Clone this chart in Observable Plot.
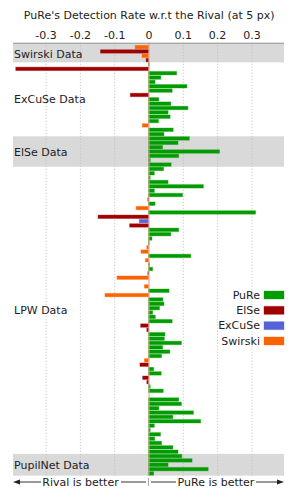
<!DOCTYPE html>
<html><head><meta charset="utf-8">
<script src="https://cdn.jsdelivr.net/npm/d3@7"></script>
<script src="https://cdn.jsdelivr.net/npm/@observablehq/plot@0.6"></script>
<style>
html,body{margin:0;padding:0;background:#fff;}
#wrap{position:relative;width:299px;height:499px;font-family:"DejaVu Sans",sans-serif;}
#wrap svg{position:absolute;left:0;top:0;}
</style></head><body><div id="wrap"></div>
<script>
const titleText = "PuRe's Detection Rate w.r.t the Rival (at 5 px)";
const xTicks = [-0.3, -0.2, -0.1, 0, 0.1, 0.2, 0.3];
const xDomain = [-0.395, 0.395];
const rivals = ["PuRe", "ElSe", "ExCuSe", "Swirski"];
const rivalColors = ["#009c00", "#a00000", "#5563d6", "#fa6400"];
const rivalCode = {P: "PuRe", E: "ElSe", X: "ExCuSe", S: "Swirski"};
const groupNames = ["Swirski Data", "ExCuSe Data", "ElSe Data", "LPW Data", "PupilNet Data"];
const groupSizes = [4, 17, 7, 66, 5];
const groupShaded = [true, false, true, false, true];
const rowValues = [
 -0.039,-0.140,-0.019,-0.007, 0.002,-0.387,0.082,0.036,0.019,0.112,0.069,-0.053,0.030,0.065,0.115,0.057,0.063,0.029,-0.018,0.072,
 0.045,0.119,0.086,0.041,0.207,0.088,0.005,0.066,0.044,0.017,0.005,0.057,0.160,0.017,0.099,-0.002,0.019,-0.036,0.312,-0.147,
 -0.027,-0.055,0.088,0.065,0.010,0.002,-0.005,-0.022,0.123,-0.009,0.003,0.012,-0.002,-0.092,0.000,-0.012,0.060,-0.127,0.042,0.045,
 0.032,0.012,0.020,0.069,-0.023,-0.005,0.048,0.046,0.096,0.041,0.062,0.038,-0.012,-0.025,0.015,0.037,-0.017,-0.005,0.005,0.043,
 0.000,0.088,0.096,0.030,0.131,0.071,0.152,0.017,0.005,0.035,0.018,0.038,0.071,0.086,0.097,0.127,0.057,0.174,0.015];
const rowWinner = [
 "S","E","S","E","P","E","P","P","P","P","P","E","P","P","P","P","P","P","S","P",
 "P","P","P","P","P","P","P","P","P","P","P","P","P","P","P","E","P","S","P","E",
 "X","E","P","P","P","P","S","S","P","S","P","P","E","S","P","S","P","S","P","P",
 "P","P","P","P","E","E","P","P","P","P","P","P","S","E","P","P","E","E","P","P",
 "P","P","P","P","P","P","P","P","P","P","P","P","P","P","P","P","P","P","P"];

const rows = rowValues.map((v, i) => ({i, v, who: rivalCode[rowWinner[i]]}));
let start = 0;
const bands = groupNames.map((name, g) => {
  const b = {name, y1: g === 0 ? -0.5 : start, y2: start + groupSizes[g], mid: start + groupSizes[g] / 2, shaded: groupShaded[g]};
  start += groupSizes[g];
  return b;
});
const nRows = rowValues.length;

const chart = Plot.plot({
  width: 299, height: 499,
  marginTop: 42.75, marginBottom: 23.35, marginLeft: 13, marginRight: 15,
  style: {fontFamily: "'DejaVu Sans', sans-serif", fontSize: "11px", color: "#222", background: "transparent"},
  x: {domain: xDomain, axis: "top", ticks: xTicks, tickFormat: d => String(d), tickSize: 0, tickPadding: 4, label: null},
  y: {domain: [-0.5, nRows], reverse: true, axis: null},
  color: {domain: rivals, range: rivalColors},
  marks: [
    Plot.rect(bands.filter(b => b.shaded), {x1: xDomain[0], x2: xDomain[1], y1: "y1", y2: "y2", fill: "#d9d9d9"}),
    Plot.ruleX(xTicks.filter(t => t !== 0), {stroke: "#bdbdbd", strokeDasharray: "1,2"}),
    Plot.rect(rows, {x1: 0, x2: "v", y1: "i", y2: d => d.i + 1, fill: "who", stroke: "who", strokeOpacity: 0.35, strokeWidth: 1, insetTop: 0.45, insetBottom: 0.45}),
    Plot.ruleX([0], {stroke: "#e29a8c"}),
    Plot.ruleY([-0.5], {stroke: "#999"}),
    Plot.text(bands, {y: "mid", text: "name", frameAnchor: "left", textAnchor: "start", dx: 0.5, fill: "#222", fontSize: 11})
  ]
});
const wrap = document.getElementById("wrap");
wrap.appendChild(chart);

// overlay: title, legend, bottom annotation
const NS = "http://www.w3.org/2000/svg";
const ov = document.createElementNS(NS, "svg");
ov.setAttribute("width", 299); ov.setAttribute("height", 499);
ov.setAttribute("font-family", "'DejaVu Sans', sans-serif");
ov.setAttribute("font-size", "11");
function el(tag, attrs, text) {
  const e = document.createElementNS(NS, tag);
  for (const k in attrs) e.setAttribute(k, attrs[k]);
  if (text != null) e.textContent = text;
  ov.appendChild(e);
  return e;
}
el("text", {x: 149.2, y: 19.3, "text-anchor": "middle", fill: "#222"}, titleText);
// legend
rivals.forEach((r, k) => {
  const base = 298.7 + k * 15.33;
  el("text", {x: 260, y: base, "text-anchor": "end", fill: "#222"}, r);
  el("rect", {x: 264, y: base - 7.7, width: 20, height: 8, fill: rivalColors[k], stroke: rivalColors[k], "stroke-opacity": 0.35});
});
// bottom annotation
const ay = 482;
el("line", {x1: 18, x2: 41, y1: ay, y2: ay, stroke: "#333", "stroke-width": 1});
el("path", {d: `M13,${ay} L20,${ay-2.5} L20,${ay+2.5} Z`, fill: "#222"});
el("text", {x: 80.5, y: 486, "text-anchor": "middle", fill: "#222"}, "Rival is better");
el("line", {x1: 121, x2: 146, y1: ay, y2: ay, stroke: "#333", "stroke-width": 1});
el("line", {x1: 148.5, x2: 148.5, y1: 478, y2: 486, stroke: "#aaa", "stroke-width": 1});
el("line", {x1: 151, x2: 176, y1: ay, y2: ay, stroke: "#333", "stroke-width": 1});
el("text", {x: 216, y: 486, "text-anchor": "middle", fill: "#222"}, "PuRe is better");
el("line", {x1: 256, x2: 279, y1: ay, y2: ay, stroke: "#333", "stroke-width": 1});
el("path", {d: `M284,${ay} L277,${ay-2.5} L277,${ay+2.5} Z`, fill: "#222"});
wrap.appendChild(ov);
</script></body></html>
